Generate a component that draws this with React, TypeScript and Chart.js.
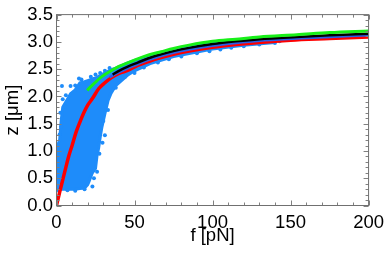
import React, { useEffect, useRef } from "react";
import { Chart, registerables } from "chart.js";

Chart.register(...registerables);

// ---- data ----
const redF = [0, 1, 2, 4, 6, 8, 10, 12.5, 15, 17.5, 20, 23, 27, 31, 35, 40, 46, 52, 59, 67, 75, 85, 100, 115, 130, 150, 175, 200];
const redZ = [0, 0.12, 0.24, 0.47, 0.7, 0.92, 1.1, 1.34, 1.53, 1.7, 1.84, 1.96, 2.14, 2.25, 2.34, 2.42, 2.48, 2.57, 2.64, 2.71, 2.77, 2.83, 2.9, 2.95, 2.99, 3.03, 3.06, 3.09];

const greenF = [19.7, 22, 25, 28, 31, 35, 40, 46, 52, 59, 67, 75, 85, 100, 115, 130, 154, 175, 200];
const greenZ = [2.11, 2.18, 2.26, 2.34, 2.4, 2.47, 2.55, 2.62, 2.69, 2.76, 2.82, 2.88, 2.94, 3.01, 3.05, 3.09, 3.13, 3.17, 3.2];

const blackF = [36, 40, 46, 52, 59, 67, 75, 85, 100, 115, 130, 154, 175, 200];
const blackZ = [2.4, 2.47, 2.55, 2.62, 2.7, 2.77, 2.83, 2.89, 2.96, 3.01, 3.05, 3.09, 3.12, 3.15];

const blueF = [34, 40, 46, 52, 59, 67, 75, 85, 100, 115, 130, 154, 175, 200];
const blueZ = [2.35, 2.44, 2.52, 2.59, 2.67, 2.74, 2.8, 2.86, 2.93, 2.98, 3.02, 3.06, 3.09, 3.12];

// measured point cloud: outline (top / bottom) at the same forces
const cloudF = [0, 1, 2, 3, 4, 5, 7, 9, 12, 15, 18, 20, 21, 23, 25, 26, 27, 28, 29, 31, 33, 35, 38, 42, 46, 50, 60, 75, 100, 120, 140];
const cloudTop = [1.08, 1.12, 1.2, 1.55, 1.8, 1.85, 1.95, 2.05, 2.12, 2.25, 2.27, 2.29, 2.3, 2.32, 2.34, 2.35, 2.37, 2.38, 2.4, 2.43, 2.46, 2.49, 2.52, 2.57, 2.62, 2.66, 2.75, 2.86, 2.98, 3.03, 3.06];
const cloudBottom = [0.31, 0.31, 0.3, 0.3, 0.3, 0.3, 0.3, 0.3, 0.3, 0.31, 0.32, 0.38, 0.45, 0.6, 0.68, 0.92, 1.05, 1.25, 1.42, 1.68, 1.92, 2.06, 2.2, 2.3, 2.4, 2.47, 2.6, 2.73, 2.87, 2.94, 2.99];

// isolated measured points around the cloud
const dotF = [1, 0.5, 2, 3.5, 5.6, 4, 9, 14.4, 16, 12, 31, 29.5, 24, 26, 23, 27.5, 30, 33, 22, 25, 28, 31, 34, 38, 44, 50, 56, 65, 72, 80, 90, 98, 105, 112, 120, 130, 140, 143, 7, 12, 18, 1.5, 3, 2.5, 6];
const dotZ = [1.05, 0.8, 1.3, 2.19, 1.82, 1.95, 2.19, 2.33, 2.31, 2.2, 1.29, 1.15, 0.5, 0.62, 0.35, 0.95, 1.55, 1.75, 2.36, 2.4, 2.43, 2.47, 2.52, 2.16, 2.36, 2.43, 2.53, 2.62, 2.68, 2.73, 2.79, 2.83, 2.86, 2.89, 2.92, 2.95, 2.98, 3.01, 0.28, 0.27, 0.3, 0.27, 1.45, 1.7, 2.02];

const xMajorTicks = [0, 50, 100, 150, 200];
const yMajorTicks = [0, 0.5, 1, 1.5, 2, 2.5, 3, 3.5];
const xMinorStep = 10;
const yMinorStep = 0.1;

const xTitle = "f [pN]";
const yTitle = "z [μm]";

const DOT = "#1e8cfa";
const FONT = "'Liberation Sans', Arial, Helvetica, sans-serif";

const pts = (fs: number[], zs: number[]) => fs.map((f, i) => ({ x: f, y: zs[i] }));

const frameTicks = {
  id: "frameTicks",
  afterDatasetsDraw(chart: any) {
    const { ctx, chartArea, scales } = chart;
    const { left, right, top, bottom } = chartArea;
    const x = scales.x;
    const y = scales.y;
    ctx.save();
    ctx.strokeStyle = "#808080";
    ctx.lineWidth = 1;
    ctx.beginPath();
    const xmin = xMajorTicks[0];
    const xmax = xMajorTicks[xMajorTicks.length - 1];
    for (let i = 0; xmin + i * xMinorStep <= xmax + 1e-9; i++) {
      const v = xmin + i * xMinorStep;
      const major = xMajorTicks.some((t) => Math.abs(t - v) < 1e-9);
      const len = major ? 5 : 3;
      const px = Math.round(x.getPixelForValue(v)) + 0.5;
      ctx.moveTo(px, bottom);
      ctx.lineTo(px, bottom - len);
      ctx.moveTo(px, top);
      ctx.lineTo(px, top + len);
    }
    const ymin = yMajorTicks[0];
    const ymax = yMajorTicks[yMajorTicks.length - 1];
    for (let i = 0; ymin + i * yMinorStep <= ymax + 1e-9; i++) {
      const v = ymin + i * yMinorStep;
      const major = yMajorTicks.some((t) => Math.abs(t - v) < 1e-6);
      const len = major ? 5 : 3;
      const py = Math.round(y.getPixelForValue(v)) + 0.5;
      ctx.moveTo(left, py);
      ctx.lineTo(left + len, py);
      ctx.moveTo(right, py);
      ctx.lineTo(right - len, py);
    }
    ctx.stroke();
    ctx.strokeStyle = "#707070";
    ctx.strokeRect(left, top, right - left, bottom - top);
    ctx.restore();
  },
};

export default function App() {
  const ref = useRef<HTMLCanvasElement | null>(null);

  useEffect(() => {
    document.body.style.margin = "0";
    const canvas = ref.current;
    if (!canvas) return;
    const lineDs = (label: string, data: any[], color: string, width: number) => ({
      label,
      data,
      borderColor: color,
      backgroundColor: color,
      borderWidth: width,
      pointRadius: 0,
      fill: false,
      cubicInterpolationMode: "monotone" as const,
    });
    const chart = new Chart(canvas, {
      type: "line",
      data: {
        datasets: [
          lineDs("green", pts(greenF, greenZ), "#19f019", 3),
          lineDs("black", pts(blackF, blackZ), "#000000", 2.5),
          lineDs("blue", pts(blueF, blueZ), "#2a5ee8", 2.5),
          lineDs("red", pts(redF, redZ), "#ff0000", 3.5),
          {
            label: "dots",
            data: pts(dotF, dotZ),
            showLine: false,
            pointRadius: 2,
            pointBorderWidth: 0,
            pointBackgroundColor: DOT,
            borderColor: DOT,
            backgroundColor: DOT,
          },
          {
            label: "cloudTop",
            data: pts(cloudF, cloudTop),
            borderColor: DOT,
            backgroundColor: DOT,
            borderWidth: 3,
            pointRadius: 0,
            tension: 0,
            fill: false,
          },
          {
            label: "cloudBottom",
            data: pts(cloudF, cloudBottom),
            borderColor: DOT,
            backgroundColor: DOT,
            borderWidth: 3,
            pointRadius: 0,
            tension: 0,
            fill: "-1",
          },
        ],
      },
      options: {
        animation: false,
        responsive: false,
        events: [],
        layout: { padding: { top: 9.5, right: 16.5, left: 0, bottom: 0 } },
        plugins: { legend: { display: false }, tooltip: { enabled: false } },
        scales: {
          x: {
            type: "linear",
            min: 0,
            max: 200,
            afterFit: (s: any) => {
              s.height = 49.5;
            },
            afterBuildTicks: (s: any) => {
              s.ticks = xMajorTicks.map((v) => ({ value: v }));
            },
            grid: { display: false, drawTicks: false },
            border: { display: false },
            ticks: {
              color: "#000",
              padding: 6,
              maxRotation: 0,
              autoSkip: false,
              font: { family: FONT, size: 18.5 },
            },
            title: {
              display: true,
              text: xTitle,
              color: "#000",
              padding: { top: 0, bottom: 8 },
              font: { family: FONT, size: 18.5 },
            },
          },
          y: {
            type: "linear",
            min: 0,
            max: 3.5,
            afterFit: (s: any) => {
              s.width = 56.5;
            },
            afterBuildTicks: (s: any) => {
              s.ticks = yMajorTicks.map((v) => ({ value: v }));
            },
            grid: { display: false, drawTicks: false },
            border: { display: false },
            ticks: {
              color: "#000",
              padding: 3.5,
              autoSkip: false,
              callback: (v: any) => Number(v).toFixed(1),
              font: { family: FONT, size: 18.5 },
            },
            title: {
              display: true,
              text: yTitle,
              color: "#000",
              padding: { top: 2, bottom: 0 },
              font: { family: FONT, size: 18.5 },
            },
          },
        },
      },
      plugins: [frameTicks],
    });
    return () => chart.destroy();
  }, []);

  return (
    <div style={{ position: "fixed", left: 0, top: 0, width: 390, height: 255, background: "#fff" }}>
      <canvas ref={ref} width={390} height={255} style={{ width: 390, height: 255, display: "block" }} />
    </div>
  );
}
